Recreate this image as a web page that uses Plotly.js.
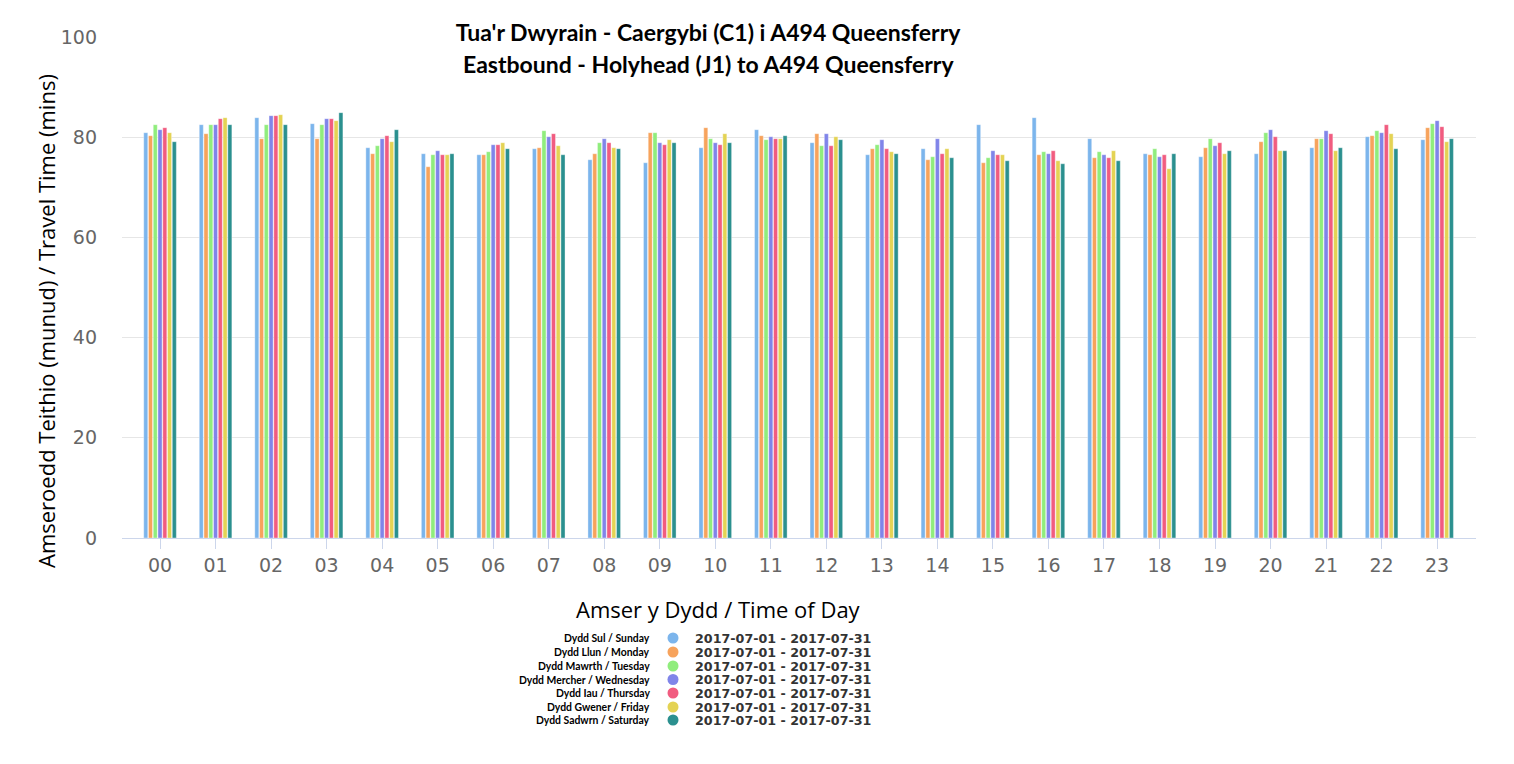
<!DOCTYPE html>
<html><head><meta charset="utf-8">
<script src="https://cdn.plot.ly/plotly-3.0.1.min.js"></script>
<style>html,body{margin:0;padding:0;background:#fff}#chart{width:1514px;height:764px}</style>
</head><body><div id="chart"></div>
<script>
const hours = ["00","01","02","03","04","05","06","07","08","09","10","11","12","13","14","15","16","17","18","19","20","21","22","23"];
const dayLabels = ["Dydd Sul / Sunday","Dydd Llun / Monday","Dydd Mawrth / Tuesday","Dydd Mercher / Wednesday","Dydd Iau / Thursday","Dydd Gwener / Friday","Dydd Sadwrn / Saturday"];
const dateRange = "2017-07-01 - 2017-07-31";
const colors = ["#7cb5ec","#f7a35c","#90ed7d","#8085e9","#f15c80","#e4d354","#2b908f"];
const sunday    = [80.9,82.5,83.9,82.7,77.9,76.7,76.5,77.7,75.5,74.9,77.9,81.5,78.9,76.5,77.7,82.5,83.9,79.7,76.7,76.1,76.7,77.9,80.1,79.5];
const monday    = [80.3,80.7,79.7,79.7,76.7,74.1,76.5,77.9,76.7,80.9,81.9,80.3,80.7,77.7,75.5,74.9,76.5,75.9,76.5,77.9,79.1,79.7,80.3,81.9];
const tuesday   = [82.5,82.5,82.5,82.5,78.3,76.5,77.1,81.3,78.9,80.9,79.7,79.5,78.3,78.5,76.1,75.9,77.1,77.1,77.7,79.7,80.9,79.7,81.3,82.7];
const wednesday = [81.5,82.5,84.3,83.7,79.7,77.3,78.5,80.1,79.7,78.9,78.9,80.1,80.7,79.5,79.7,77.3,76.7,76.5,76.1,78.3,81.5,81.3,80.9,83.3];
const thursday  = [81.9,83.7,84.3,83.7,80.3,76.5,78.5,80.7,78.9,78.5,78.5,79.7,78.3,77.7,76.7,76.5,77.3,75.9,76.5,78.9,80.1,80.7,82.5,82.1];
const friday    = [80.9,83.9,84.5,83.3,79.1,76.5,78.9,78.3,77.9,79.5,80.7,79.7,80.1,77.1,77.7,76.5,75.3,77.3,73.7,76.7,77.3,77.3,80.7,79.1];
const saturday  = [79.1,82.5,82.5,84.9,81.5,76.7,77.7,76.5,77.7,78.9,78.9,80.3,79.5,76.7,75.9,75.3,74.7,75.3,76.7,77.3,77.3,77.9,77.7,79.7];
const series = [sunday,monday,tuesday,wednesday,thursday,friday,saturday];

const traces = series.map((vals,i)=>({
  type:'bar', x:hours, y:vals, name:dayLabels[i],
  marker:{color:colors[i], line:{color:'rgba(255,255,255,0.6)', width:0.6}},
  showlegend:false, hoverinfo:'x+y+name'
}));

// pixel -> paper helpers for decorations
const L=122, R=1476, T=37, B=538;
const px = v => (v-L)/(R-L);
const py = v => (B-v)/(B-T);

const shapes = [{type:'rect', xref:'paper', yref:'paper', x0:px(398), x1:px(1087), y0:py(85), y1:py(15),
  fillcolor:'#ffffff', line:{width:0}, layer:'above'}];
const annotations = [
  {xref:'paper', yref:'paper', x:px(708), y:py(64), xanchor:'center', yanchor:'middle',
   text:"<b>Eastbound - Holyhead (J1) to A494 Queensferry</b>", showarrow:false,
   font:{family:'Lato, sans-serif', size:23, color:'#000'}},
  {xref:'paper', yref:'paper', x:px(718), y:py(609), xanchor:'center', yanchor:'middle',
   text:'Amser y Dydd / Time of Day', showarrow:false,
   font:{family:'Open Sans, sans-serif', size:22, color:'#000'}},
  {xref:'paper', yref:'paper', x:px(46), y:py(321), xanchor:'center', yanchor:'middle', textangle:-90,
   text:'Amseroedd Teithio (munud) / Travel Time (mins)', showarrow:false,
   font:{family:'Open Sans, sans-serif', size:22, color:'#000'}}
];
const rowY = [638,652,666,679.5,693,707,720];
dayLabels.forEach((lab,i)=>{
  annotations.push({xref:'paper', yref:'paper', x:px(652), y:py(rowY[i]), xanchor:'right', yanchor:'middle',
    text:'<b>'+lab+'</b>', showarrow:false, font:{family:'Lato, sans-serif', size:10.4, color:'#000'}});
  annotations.push({xref:'paper', yref:'paper', x:px(693), y:py(rowY[i]), xanchor:'left', yanchor:'middle',
    text:'<b>'+dateRange+'</b>', showarrow:false, font:{family:'DejaVu Sans, sans-serif', size:12.7, color:'#333'}});
  shapes.push({type:'circle', xref:'paper', yref:'paper', x0:px(667.5), x1:px(678.5), y0:py(rowY[i]+5.5), y1:py(rowY[i]-5.5),
    fillcolor:colors[i], line:{width:0}});
});

const layout = {
  width:1514, height:764,
  margin:{l:L, r:1514-R, t:T, b:764-B},
  paper_bgcolor:'#fff', plot_bgcolor:'#fff',
  title:{text:"<b>Tua'r Dwyrain - Caergybi (C1) i A494 Queensferry</b>", x:708/1514, xref:'container', xanchor:'center',
    y:1-33/764, yref:'container', yanchor:'middle', font:{family:'Lato, sans-serif', size:23, color:'#000'}},
  barmode:'group', bargap:0.40, bargroupgap:0.15,
  showlegend:false,
  xaxis:{type:'category', range:[-0.685,23.7], showgrid:false, showline:true, linecolor:'#ccd6eb', linewidth:1,
    ticks:'outside', ticklen:10, tickcolor:'#ccd6eb', tickwidth:1, ticklabelstandoff:0,
    tickfont:{family:'DejaVu Sans, sans-serif', size:19, color:'#666'}},
  yaxis:{range:[0,100], tickvals:[0,20,40,60,80,100], showgrid:true, gridcolor:'#e6e6e6', zeroline:false, showline:false,
    ticks:'', ticklabelstandoff:24, tickfont:{family:'DejaVu Sans, sans-serif', size:19, color:'#666'}},
  shapes:shapes, annotations:annotations
};
Plotly.newPlot('chart', traces, layout, {displayModeBar:false, staticPlot:true});
</script></body></html>
